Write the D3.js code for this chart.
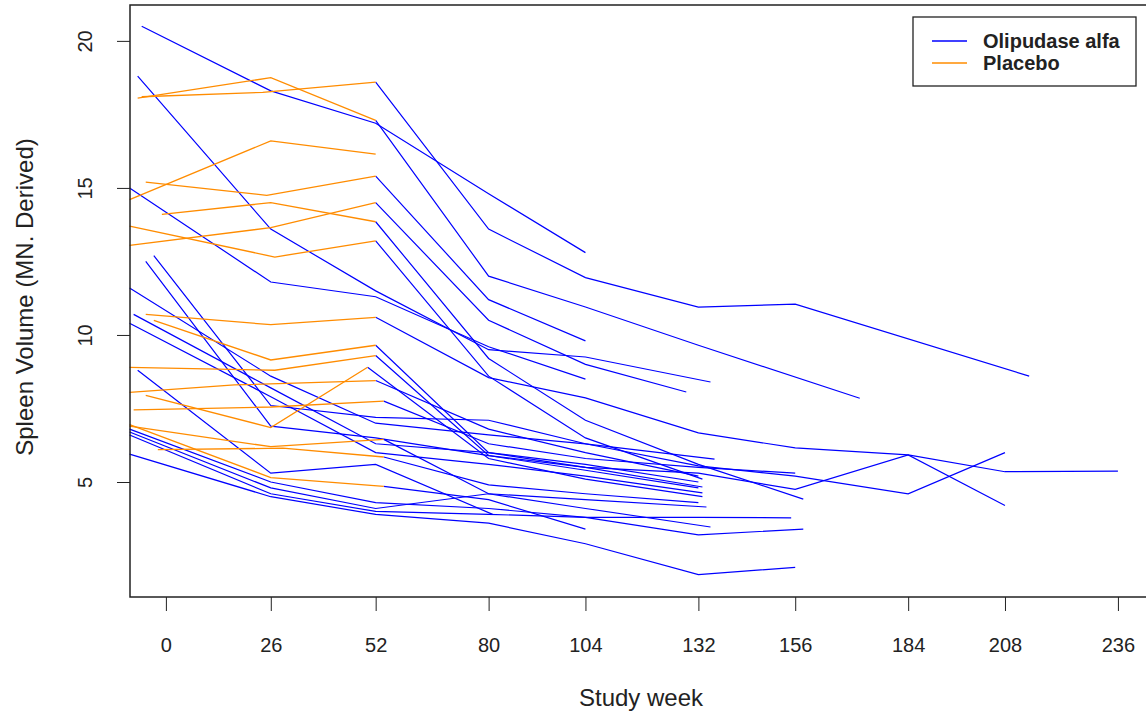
<!DOCTYPE html>
<html>
<head>
<meta charset="utf-8">
<script src="https://cdn.jsdelivr.net/npm/d3@7"></script>
<style>
  body { margin: 0; background: #fff; }
  text { font-family: "Liberation Sans", Arial, sans-serif; fill: #222; }
</style>
</head>
<body>
<div id="chart"></div>
<script>
// tick labels
const xTicks = [0, 26, 52, 80, 104, 132, 156, 184, 208, 236];
const yTicks = [5, 10, 15, 20];

// olipudase arm, blue from baseline (w = study week, v = spleen volume)
const olipudase = [
  { w: [-6, 26, 52, 80, 104], v: [20.5, 18.3, 17.2, 14.8, 12.8] },
  { w: [-7, 26, 52, 80, 104, 135], v: [18.8, 13.6, 11.5, 9.5, 9.25, 8.4] },
  { w: [-9, 26, 52, 80, 104], v: [15.0, 11.8, 11.3, 9.6, 8.5] },
  { w: [-3, 26, 52, 80, 104, 132, 156, 184, 208], v: [12.7, 7.6, 7.2, 7.1, 6.3, 5.55, 5.2, 4.6, 6.0] },
  { w: [-5, 26, 52, 80, 104, 132, 156, 184, 208], v: [12.5, 6.9, 6.5, 5.9, 5.5, 5.3, 4.75, 5.92, 4.2] },
  { w: [-9, 26, 52, 80, 104, 136], v: [11.6, 8.6, 7.0, 6.6, 6.3, 5.78] },
  { w: [-8, 26, 52, 80, 104, 133], v: [10.7, 8.2, 6.3, 6.0, 5.5, 4.83] },
  { w: [-9, 26, 52, 80, 104, 133], v: [10.4, 7.9, 6.0, 5.6, 5.2, 4.63] },
  { w: [-7, 26, 52, 81], v: [8.8, 5.3, 5.6, 3.9] },
  { w: [-9, 26, 52, 80, 104, 132, 155], v: [6.8, 5.0, 4.3, 4.1, 3.8, 3.8, 3.78] },
  { w: [-9, 26, 52, 80, 104, 134], v: [6.7, 4.8, 4.1, 4.6, 4.4, 4.15] },
  { w: [-9, 26, 52, 80, 104, 132, 158], v: [6.6, 4.6, 4.0, 3.9, 3.8, 3.2, 3.4] },
  { w: [-9, 26, 52, 80, 104, 132, 156], v: [5.95, 4.5, 3.9, 3.6, 2.9, 1.85, 2.1] }
];

// placebo arm, orange up to week 52
const placebo = [
  { w: [-7, 26, 52], v: [18.05, 18.75, 17.3] },
  { w: [-6, 24, 52], v: [18.1, 18.25, 18.6] },
  { w: [-9, 26, 52], v: [14.6, 16.6, 16.15] },
  { w: [-5, 25, 52], v: [15.2, 14.75, 15.4] },
  { w: [-1, 26, 52], v: [14.1, 14.5, 13.85] },
  { w: [-9, 26, 52], v: [13.05, 13.65, 14.5] },
  { w: [-9, 27, 52], v: [13.7, 12.65, 13.2] },
  { w: [-5, 26, 52], v: [10.7, 10.35, 10.6] },
  { w: [-3, 26, 52], v: [10.5, 9.15, 9.65] },
  { w: [-9, 27, 52], v: [8.9, 8.8, 9.3] },
  { w: [-9, 17, 52], v: [8.05, 8.3, 8.45] },
  { w: [-5, 26, 50], v: [7.95, 6.85, 8.9] },
  { w: [-8, 26, 54], v: [7.45, 7.55, 7.75] },
  { w: [-9, 26, 54], v: [6.9, 6.2, 6.45] },
  { w: [-9, 26, 54], v: [6.95, 5.15, 4.85] },
  { w: [-2, 29, 54], v: [6.1, 6.15, 5.85] }
];

// placebo patients after crossing over to olipudase at week 52 (blue)
const crossover = [
  { w: [52, 80, 104, 132, 156, 214], v: [18.6, 13.6, 11.95, 10.95, 11.05, 8.6] },
  { w: [52, 80, 104, 132, 172], v: [17.3, 12.0, 10.95, 9.65, 7.85] },
  { w: [52, 80, 104], v: [15.4, 11.2, 9.8] },
  { w: [52, 80, 104, 129], v: [14.5, 10.5, 9.0, 8.06] },
  { w: [52, 80, 104, 132, 158], v: [13.85, 9.2, 7.1, 5.6, 4.42] },
  { w: [52, 80, 104, 133], v: [13.2, 8.6, 6.5, 5.1] },
  { w: [52, 80, 104, 132, 156, 184, 208, 236], v: [10.6, 8.55, 7.86, 6.67, 6.16, 5.92, 5.35, 5.37] },
  { w: [52, 80, 104, 132], v: [9.65, 6.0, 5.6, 5.0] },
  { w: [52, 80, 104, 132], v: [9.3, 5.9, 5.4, 4.8] },
  { w: [52, 80, 104, 132], v: [8.45, 6.8, 6.0, 5.2] },
  { w: [50, 80, 104, 133], v: [8.9, 5.8, 5.1, 4.5] },
  { w: [54, 80, 104, 132, 156], v: [7.75, 6.3, 5.8, 5.5, 5.3] },
  { w: [54, 80, 104, 135], v: [6.45, 4.6, 4.1, 3.47] },
  { w: [54, 80, 104], v: [4.85, 4.4, 3.4] },
  { w: [54, 80, 104, 132], v: [5.85, 4.9, 4.6, 4.3] }
];

const legendLabels = ["Olipudase alfa", "Placebo"];
const blue = "#0000ff", orange = "#ff8c00";

let width = 1146, height = 713;
let plot = { left: 130, top: 5, bottom: 597 };

let svg = d3.select("#chart").append("svg")
  .attr("width", width)
  .attr("height", height);

let x = d3.scaleLinear().domain([-8.9, 245]).range([plot.left, plot.left + 253.9 * 4.034]);
let y = d3.scaleLinear().domain([1.09, 21.22]).range([plot.bottom, plot.top]);

let line = d3.line()
  .x(d => x(d[0]))
  .y(d => y(d[1]));

function pts(s) { return s.w.map((w, i) => [w, s.v[i]]); }

let g = svg.append("g");

g.selectAll(".oli")
  .data(olipudase.concat(crossover))
  .enter().append("path")
  .attr("d", d => line(pts(d)))
  .attr("fill", "none")
  .attr("stroke", blue)
  .attr("stroke-width", 1.2);

g.selectAll(".pla")
  .data(placebo)
  .enter().append("path")
  .attr("d", d => line(pts(d)))
  .attr("fill", "none")
  .attr("stroke", orange)
  .attr("stroke-width", 1.3);

// plot box
svg.append("rect")
  .attr("x", plot.left).attr("y", plot.top)
  .attr("width", width + 10 - plot.left).attr("height", plot.bottom - plot.top)
  .attr("fill", "none").attr("stroke", "#222").attr("stroke-width", 1.5);

// x axis
let xAxis = svg.append("g")
  .attr("transform", "translate(0," + plot.bottom + ")")
  .call(d3.axisBottom(x).tickValues(xTicks).tickSize(14).tickPadding(27).tickFormat(d3.format("d")));
xAxis.select(".domain").remove();
xAxis.selectAll("line").attr("stroke", "#222");
xAxis.selectAll("text").attr("font-size", 20).attr("fill", "#222")
  .style("font-family", "'Liberation Sans', Arial, sans-serif");

// y axis, labels parallel to the axis as in base R
let yAxis = svg.append("g")
  .attr("transform", "translate(" + plot.left + ",0)")
  .call(d3.axisLeft(y).tickValues(yTicks).tickSize(13).tickFormat(d3.format("d")));
yAxis.select(".domain").remove();
yAxis.selectAll("line").attr("stroke", "#222");
yAxis.selectAll("text")
  .attr("font-size", 20).attr("fill", "#222")
  .style("font-family", "'Liberation Sans', Arial, sans-serif")
  .attr("text-anchor", "middle")
  .attr("x", 0).attr("dy", 0)
  .attr("transform", "translate(-38,0) rotate(-90)");

// axis titles
svg.append("text")
  .attr("x", 641).attr("y", 706)
  .attr("text-anchor", "middle")
  .attr("font-size", 24)
  .text("Study week");

svg.append("text")
  .attr("transform", "translate(33,297) rotate(-90)")
  .attr("text-anchor", "middle")
  .attr("font-size", 24)
  .text("Spleen Volume (MN. Derived)");

// legend
let legend = svg.append("g");
legend.append("rect")
  .attr("x", 913).attr("y", 17).attr("width", 223).attr("height", 69)
  .attr("fill", "#fff").attr("stroke", "#222").attr("stroke-width", 1.3);
legend.selectAll(".key")
  .data(legendLabels)
  .enter().append("line")
  .attr("x1", 932).attr("x2", 967)
  .attr("y1", (d, i) => 41 + i * 22).attr("y2", (d, i) => 41 + i * 22)
  .attr("stroke", (d, i) => i === 0 ? blue : orange)
  .attr("stroke-width", 1.5);
legend.selectAll(".lab")
  .data(legendLabels)
  .enter().append("text")
  .attr("x", 983)
  .attr("y", (d, i) => 48 + i * 22)
  .attr("font-size", 20)
  .attr("font-weight", "bold")
  .text(d => d);
</script>
</body>
</html>
